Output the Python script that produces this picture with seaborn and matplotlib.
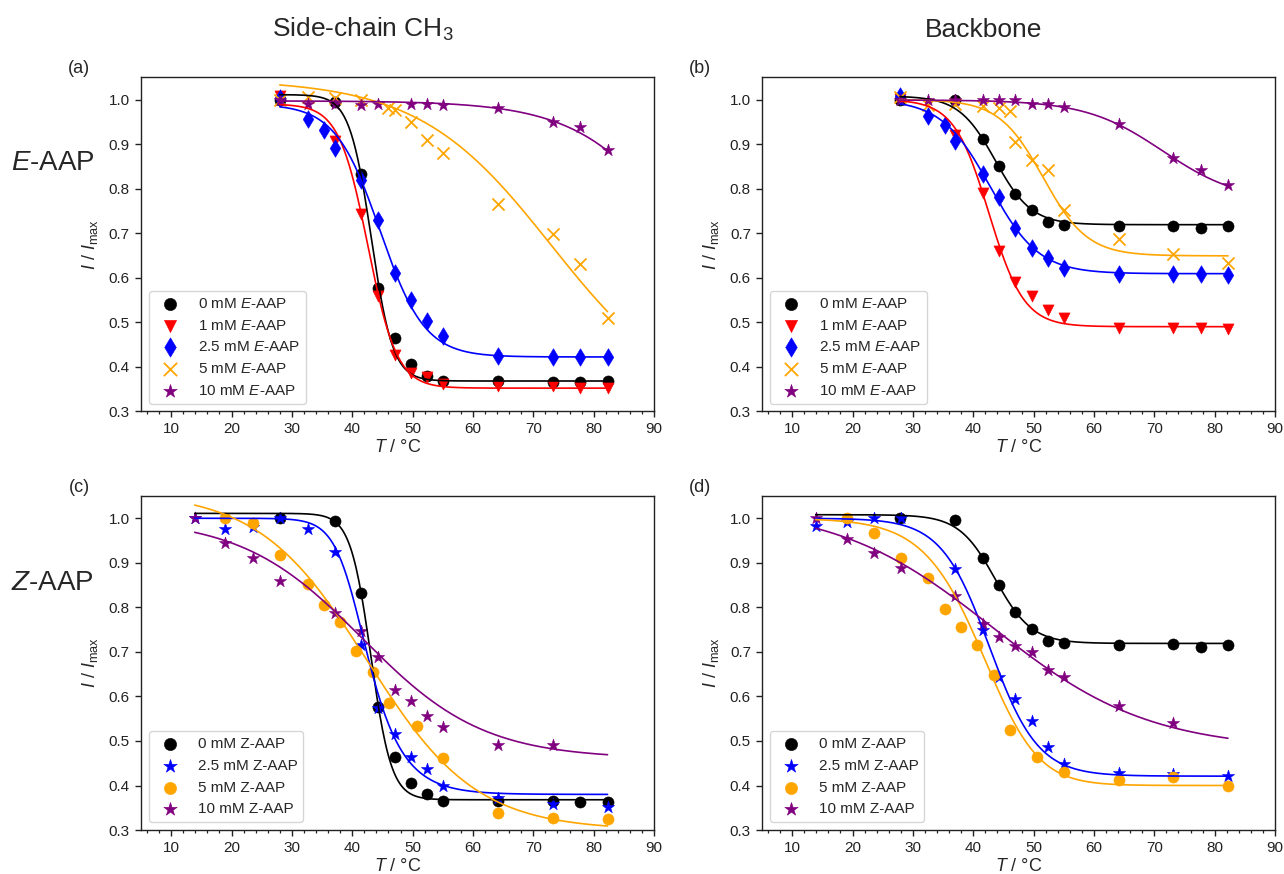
import numpy as np
import pandas as pd
import matplotlib
matplotlib.use("Agg")
import matplotlib.pyplot as plt
from matplotlib.ticker import MultipleLocator
import seaborn as sns

# ---------------- measured data ----------------
# (a) side-chain CH3, E-AAP
a0_T = [28.0, 37.1, 41.5, 44.3, 47.1, 49.8, 52.4, 55.1, 64.2, 73.3, 77.8, 82.3]
a0_I = [1.000, 0.994, 0.833, 0.577, 0.465, 0.406, 0.380, 0.368, 0.368, 0.366, 0.366, 0.367]
a1_T = [28.0, 37.1, 41.5, 44.3, 47.1, 49.8, 52.4, 55.1, 64.2, 73.3, 77.8, 82.3]
a1_I = [1.008, 0.906, 0.744, 0.558, 0.427, 0.387, 0.376, 0.361, 0.357, 0.357, 0.353, 0.353]
a25_T = [28.0, 32.6, 35.3, 37.1, 41.5, 44.3, 47.1, 49.8, 52.4, 55.1, 64.2, 73.3, 77.8, 82.3]
a25_I = [1.004, 0.956, 0.932, 0.891, 0.820, 0.729, 0.611, 0.550, 0.502, 0.468, 0.425, 0.423, 0.423, 0.421]
a5_T = [28.0, 32.6, 37.1, 41.5, 46.0, 47.1, 49.8, 52.4, 55.1, 64.2, 73.3, 77.8, 82.3]
a5_I = [1.000, 1.006, 1.004, 0.998, 0.981, 0.976, 0.949, 0.910, 0.881, 0.765, 0.697, 0.630, 0.510]
a10_T = [28.0, 32.6, 37.1, 41.5, 44.3, 49.8, 52.4, 55.1, 64.2, 73.3, 77.8, 82.3]
a10_I = [1.000, 0.991, 0.991, 0.987, 0.990, 0.990, 0.990, 0.987, 0.980, 0.950, 0.938, 0.886]

# (b) backbone, E-AAP
b0_T = [27.9, 37.0, 41.6, 44.3, 47.0, 49.8, 52.4, 55.1, 64.1, 73.1, 77.7, 82.2]
b0_I = [1.000, 0.998, 0.911, 0.850, 0.788, 0.752, 0.724, 0.719, 0.716, 0.717, 0.712, 0.715]
b1_T = [27.9, 37.0, 41.6, 44.3, 47.0, 49.8, 52.4, 55.1, 64.1, 73.1, 77.7, 82.2]
b1_I = [1.002, 0.921, 0.790, 0.659, 0.591, 0.559, 0.528, 0.509, 0.488, 0.488, 0.486, 0.484]
b25_T = [27.9, 32.5, 35.3, 37.0, 41.6, 44.3, 47.0, 49.8, 52.4, 55.1, 64.1, 73.1, 77.7, 82.2]
b25_I = [1.008, 0.962, 0.942, 0.906, 0.833, 0.781, 0.711, 0.666, 0.645, 0.621, 0.609, 0.609, 0.609, 0.606]
b5_T = [27.9, 32.5, 37.0, 41.6, 44.3, 46.1, 47.0, 49.8, 52.4, 55.1, 64.1, 73.1, 82.2]
b5_I = [1.006, 0.987, 0.991, 0.985, 0.981, 0.974, 0.905, 0.865, 0.842, 0.753, 0.687, 0.654, 0.632]
b10_T = [27.9, 32.5, 37.0, 41.6, 44.3, 47.0, 49.8, 52.4, 55.1, 64.1, 73.1, 77.7, 82.2]
b10_I = [0.998, 1.000, 1.000, 0.998, 1.000, 0.998, 0.991, 0.989, 0.983, 0.946, 0.869, 0.842, 0.807]

# (c) side-chain CH3, Z-AAP
c0_T = [28.0, 37.1, 41.5, 44.3, 47.1, 49.8, 52.4, 55.1, 64.2, 73.3, 77.8, 82.3]
c0_I = [1.000, 0.995, 0.833, 0.577, 0.465, 0.405, 0.380, 0.366, 0.366, 0.365, 0.363, 0.363]
c25_T = [13.9, 19.0, 23.6, 28.0, 32.6, 37.1, 41.5, 44.3, 47.1, 49.8, 52.4, 55.1, 64.2, 73.3, 82.3]
c25_I = [1.000, 0.975, 0.981, 1.000, 0.975, 0.925, 0.716, 0.575, 0.515, 0.465, 0.438, 0.398, 0.371, 0.359, 0.352]
c5_T = [19.0, 23.6, 28.0, 32.6, 35.3, 37.9, 40.7, 43.5, 46.1, 50.7, 55.1, 64.2, 73.3, 82.3]
c5_I = [1.000, 0.989, 0.917, 0.853, 0.805, 0.767, 0.703, 0.654, 0.585, 0.533, 0.462, 0.338, 0.327, 0.325]
c10_T = [13.9, 19.0, 23.6, 28.0, 37.1, 41.5, 44.3, 47.1, 49.8, 52.4, 55.1, 64.2, 73.3]
c10_I = [1.000, 0.945, 0.910, 0.859, 0.787, 0.748, 0.688, 0.614, 0.590, 0.556, 0.532, 0.492, 0.491]

# (d) backbone, Z-AAP
d0_T = [27.9, 37.0, 41.6, 44.3, 47.0, 49.8, 52.4, 55.1, 64.1, 73.1, 77.7, 82.2]
d0_I = [1.000, 0.996, 0.911, 0.850, 0.790, 0.752, 0.724, 0.720, 0.716, 0.718, 0.712, 0.716]
d25_T = [13.9, 19.1, 23.5, 28.0, 37.0, 41.6, 44.3, 47.0, 49.8, 52.4, 55.1, 64.1, 73.1, 82.2]
d25_I = [0.983, 0.992, 1.000, 1.000, 0.885, 0.750, 0.643, 0.594, 0.545, 0.487, 0.448, 0.429, 0.425, 0.421]
d5_T = [19.1, 23.5, 28.0, 32.5, 35.3, 37.9, 40.6, 43.4, 46.1, 50.6, 55.1, 64.1, 73.1, 82.2]
d5_I = [1.000, 0.968, 0.910, 0.865, 0.797, 0.756, 0.716, 0.649, 0.524, 0.463, 0.430, 0.412, 0.418, 0.400]
d10_T = [13.9, 19.1, 23.5, 28.0, 37.0, 41.6, 44.3, 47.0, 49.8, 52.4, 55.1, 64.1, 73.1]
d10_I = [1.000, 0.953, 0.923, 0.889, 0.826, 0.763, 0.733, 0.714, 0.700, 0.660, 0.643, 0.578, 0.540]

# sigmoid fit parameters: (top, bottom, Tm, width, asymmetry)
a0_fit = (1.011, 0.368, 43.15, 1.8, 1.0)
a1_fit = (0.990, 0.352, 42.6, 2.4, 1.0)
a25_fit = (0.990, 0.422, 44.6, 3.7, 1.0)
a5_fit = (1.045, 0.300, 73.0, 11.0, 1.0)
a10_fit = (0.997, 0.300, 97.0, 8.9, 1.0)

b0_fit = (1.008, 0.719, 43.64, 3.0, 1.0)
b1_fit = (1.000, 0.490, 42.6, 2.9, 1.0)
b25_fit = (1.000, 0.609, 42.8, 4.05, 1.0)
b5_fit = (1.000, 0.649, 51.6, 3.66, 1.0)
b10_fit = (0.999, 0.770, 71.4, 6.4, 1.0)

c0_fit = (1.011, 0.368, 43.1, 1.7, 1.0)
c25_fit = (1.000, 0.380, 40.19, 2.18, 0.5)
c5_fit = (1.060, 0.300, 42.5, 9.0, 1.0)
c10_fit = (1.000, 0.460, 41.7, 10.0, 1.0)

d0_fit = (1.008, 0.719, 43.64, 3.0, 1.0)
d25_fit = (1.000, 0.421, 42.7, 4.0, 1.0)
d5_fit = (1.000, 0.400, 44.2, 5.3, 1.5)
d10_fit = (1.030, 0.480, 43.2, 13.0, 1.0)

E_labels = [r"0 mM $\mathit{E}$-AAP", r"1 mM $\mathit{E}$-AAP", r"2.5 mM $\mathit{E}$-AAP",
            r"5 mM $\mathit{E}$-AAP", r"10 mM $\mathit{E}$-AAP"]
Z_labels = ["0 mM Z-AAP", "2.5 mM Z-AAP", "5 mM Z-AAP", "10 mM Z-AAP"]
x_ticks = [10, 20, 30, 40, 50, 60, 70, 80, 90]
y_ticks = [0.3, 0.4, 0.5, 0.6, 0.7, 0.8, 0.9, 1.0]


def sigmoid(t, p):
    top, bottom, tm, w, nu = p
    return bottom + (top - bottom) / (1.0 + np.exp((t - tm) / w)) ** nu


# ---------------- style ----------------
sns.set_style("ticks")
plt.rcParams["font.family"] = ["Liberation Sans", "DejaVu Sans"]
plt.rcParams["mathtext.fontset"] = "custom"
plt.rcParams["mathtext.rm"] = "Liberation Sans"
plt.rcParams["mathtext.it"] = "Liberation Sans:italic"
plt.rcParams["mathtext.bf"] = "Liberation Sans:bold"
plt.rcParams["axes.edgecolor"] = "#222222"
plt.rcParams["axes.linewidth"] = 1.0
plt.rcParams["xtick.color"] = "#222222"
plt.rcParams["ytick.color"] = "#222222"
plt.rcParams["xtick.labelcolor"] = "#222222"
plt.rcParams["ytick.labelcolor"] = "#222222"

fig, axes = plt.subplots(2, 2, figsize=(12.84, 8.74), dpi=100)
fig.subplots_adjust(left=0.1098, right=0.993, top=0.9116, bottom=0.0503,
                    wspace=0.2105, hspace=0.2536)

panels = [
    (axes[0, 0], "(a)",
     [(a0_T, a0_I, a0_fit, "o", "black", 64),
      (a1_T, a1_I, a1_fit, "v", "red", 64),
      (a25_T, a25_I, a25_fit, "d", "blue", 80),
      (a5_T, a5_I, a5_fit, "x", "orange", 75),
      (a10_T, a10_I, a10_fit, "*", "purple", 85)], E_labels),
    (axes[0, 1], "(b)",
     [(b0_T, b0_I, b0_fit, "o", "black", 64),
      (b1_T, b1_I, b1_fit, "v", "red", 64),
      (b25_T, b25_I, b25_fit, "d", "blue", 80),
      (b5_T, b5_I, b5_fit, "x", "orange", 75),
      (b10_T, b10_I, b10_fit, "*", "purple", 85)], E_labels),
    (axes[1, 0], "(c)",
     [(c0_T, c0_I, c0_fit, "o", "black", 64),
      (c25_T, c25_I, c25_fit, "*", "blue", 85),
      (c5_T, c5_I, c5_fit, "o", "orange", 64),
      (c10_T, c10_I, c10_fit, "*", "purple", 85)], Z_labels),
    (axes[1, 1], "(d)",
     [(d0_T, d0_I, d0_fit, "o", "black", 64),
      (d25_T, d25_I, d25_fit, "*", "blue", 85),
      (d5_T, d5_I, d5_fit, "o", "orange", 64),
      (d10_T, d10_I, d10_fit, "*", "purple", 85)], Z_labels),
]

for ax, tag, series, labels in panels:
    t_lo = min(min(s[0]) for s in series)
    t_hi = max(max(s[0]) for s in series)
    grid = np.linspace(t_lo, t_hi, 300)
    for (T, I, fit, mk, col, size), lab in zip(series, labels):
        df = pd.DataFrame({"T": T, "I": I})
        if mk == "x":
            sns.scatterplot(data=df, x="T", y="I", marker=mk, color=col, s=size,
                            linewidth=1.3, label=lab, ax=ax, zorder=3)
        else:
            sns.scatterplot(data=df, x="T", y="I", marker=mk, color=col, s=size,
                            edgecolor=col, linewidth=0.4, label=lab, ax=ax, zorder=3)
        fdf = pd.DataFrame({"T": grid, "I": sigmoid(grid, fit)})
        sns.lineplot(data=fdf, x="T", y="I", color=col, linewidth=1.2,
                     legend=False, ax=ax, zorder=4)

    ax.set_xlim(5, 90)
    ax.set_ylim(0.3, 1.05)
    ax.set_xticks(x_ticks)
    ax.set_yticks(y_ticks)
    ax.set_yticklabels([f"{v:.1f}" for v in y_ticks])
    ax.xaxis.set_minor_locator(MultipleLocator(2))
    ax.tick_params(axis="both", which="major", labelsize=11, length=4.5, width=1.0)
    ax.tick_params(axis="x", which="minor", length=2.5, width=0.9)
    for side in ["top", "right", "left", "bottom"]:
        ax.spines[side].set_visible(True)
    ax.set_xlabel(r"$\mathit{T}$ / °C", fontsize=13, labelpad=2)
    ax.set_ylabel(r"$\mathit{I}$ / $\mathit{I}_{\mathrm{max}}$", fontsize=13, labelpad=6)
    ax.legend(loc="lower left", fontsize=11, frameon=True, markerscale=1.1)
    ax.text(-0.10, 1.025, tag, transform=ax.transAxes, fontsize=13,
            ha="right", va="center")

# column titles and row labels
fig.text(0.283, 0.966, r"Side-chain CH$_3$", fontsize=19, ha="center", va="center")
fig.text(0.766, 0.966, "Backbone", fontsize=19, ha="center", va="center")
fig.text(0.041, 0.8135, r"$\mathit{E}$-AAP", fontsize=20, ha="center", va="center")
fig.text(0.041, 0.333, r"$\mathit{Z}$-AAP", fontsize=20, ha="center", va="center")

fig.savefig("out.png", dpi=100)
